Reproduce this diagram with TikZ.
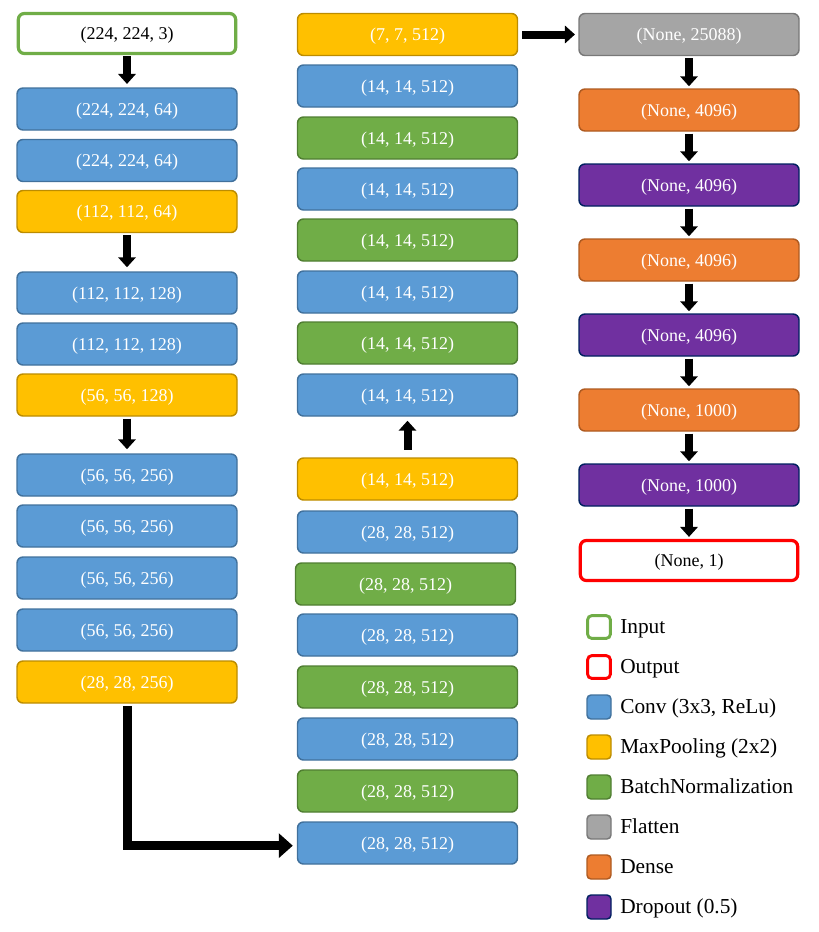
\documentclass[tikz,border=0pt]{standalone}
\usepackage{fontspec}
\setmainfont{Liberation Serif}
\usetikzlibrary{arrows.meta}
\definecolor{cblue}{HTML}{5B9BD5}\definecolor{cblueb}{HTML}{41719C}
\definecolor{cyel}{HTML}{FFC000}\definecolor{cyelb}{HTML}{BC8C00}
\definecolor{cgreen}{HTML}{70AD47}\definecolor{cgreenb}{HTML}{507E32}
\definecolor{cgray}{HTML}{A5A5A5}\definecolor{cgrayb}{HTML}{787878}
\definecolor{corange}{HTML}{ED7D31}\definecolor{corangeb}{HTML}{AE5A21}
\definecolor{cpurple}{HTML}{7030A0}\definecolor{cpurpleb}{HTML}{002060}
\definecolor{cred}{HTML}{FF0000}
\begin{document}
\begin{tikzpicture}[x=0.75pt,y=-0.75pt,
  layer/.style={rectangle,rounded corners=4.5pt,minimum width=165pt,minimum height=31.5pt,inner sep=0pt,line width=1.1pt,text=white,font=\fontsize{13.5}{16}\selectfont,text height=11pt,text depth=2pt},
  inp/.style={layer,draw=cgreen,fill=white,text=black,line width=2.4pt,minimum width=163pt,minimum height=30pt},
  outp/.style={layer,draw=cred,fill=white,text=black,line width=2.4pt,minimum width=163pt,minimum height=30pt},
  conv/.style={layer,fill=cblue,draw=cblueb},
  pool/.style={layer,fill=cyel,draw=cyelb},
  bn/.style={layer,fill=cgreen,draw=cgreenb},
  flat/.style={layer,fill=cgray,draw=cgrayb},
  dense/.style={layer,fill=corange,draw=corangeb},
  drop/.style={layer,fill=cpurple,draw=cpurpleb},
  flow/.style={line width=6pt,-{Triangle[width=13pt,length=7.5pt]}},
  bigflow/.style={line width=6.75pt,-{Triangle[width=18pt,length=10.5pt]}},
  legsq/.style={rectangle,rounded corners=3pt,minimum size=18pt,inner sep=0pt,line width=1.1pt},
  legtxt/.style={anchor=west,inner sep=0pt,font=\fontsize{16}{19}\selectfont,text height=11.4pt,text depth=2pt}
]
\useasboundingbox (0,0) rectangle (818,932);
% left column
\node[inp]  (l1)  at (127,33.5) {(224, 224, 3)};
\node[conv] (l2)  at (127,109)  {(224, 224, 64)};
\node[conv] (l3)  at (127,160.5){(224, 224, 64)};
\node[pool] (l4)  at (127,211.5){(112, 112, 64)};
\node[conv] (l5)  at (127,293)  {(112, 112, 128)};
\node[conv] (l6)  at (127,344)  {(112, 112, 128)};
\node[pool] (l7)  at (127,395)  {(56, 56, 128)};
\node[conv] (l8)  at (127,475)  {(56, 56, 256)};
\node[conv] (l9)  at (127,526)  {(56, 56, 256)};
\node[conv] (l10) at (127,578)  {(56, 56, 256)};
\node[conv] (l11) at (127,630)  {(56, 56, 256)};
\node[pool] (l12) at (127,682)  {(28, 28, 256)};
% middle column
\node[pool] (m1)  at (407.5,34.5) {(7, 7, 512)};
\node[conv] (m2)  at (407.5,86)   {(14, 14, 512)};
\node[bn]   (m3)  at (407.5,138)  {(14, 14, 512)};
\node[conv] (m4)  at (407.5,189)  {(14, 14, 512)};
\node[bn]   (m5)  at (407.5,240)  {(14, 14, 512)};
\node[conv] (m6)  at (407.5,292)  {(14, 14, 512)};
\node[bn]   (m7)  at (407.5,343)  {(14, 14, 512)};
\node[conv] (m8)  at (407.5,395)  {(14, 14, 512)};
\node[pool] (m9)  at (407.5,479)  {(14, 14, 512)};
\node[conv] (m10) at (407.5,532)  {(28, 28, 512)};
\node[bn]   (m11) at (405.5,584)  {(28, 28, 512)};
\node[conv] (m12) at (407.5,635)  {(28, 28, 512)};
\node[bn]   (m13) at (407.5,687)  {(28, 28, 512)};
\node[conv] (m14) at (407.5,739)  {(28, 28, 512)};
\node[bn]   (m15) at (407.5,791)  {(28, 28, 512)};
\node[conv] (m16) at (407.5,843)  {(28, 28, 512)};
% right column
\node[flat]  (r1) at (689,34.5)  {(None, 25088)};
\node[dense] (r2) at (689,110)   {(None, 4096)};
\node[drop]  (r3) at (689,185)   {(None, 4096)};
\node[dense] (r4) at (689,260)   {(None, 4096)};
\node[drop]  (r5) at (689,335)   {(None, 4096)};
\node[dense] (r6) at (689,410)   {(None, 1000)};
\node[drop]  (r7) at (689,485)   {(None, 1000)};
\node[outp]  (r8) at (689,560.5) {(None, 1)};
% arrows
\draw[flow,shorten <=1pt,shorten >=2.5pt] (l1.south) -- (l2.north);
\draw[flow,shorten <=1.5pt,shorten >=3pt] (l4.south) -- (l5.north);
\draw[flow,shorten <=1.5pt,shorten >=3pt] (l7.south) -- (l8.north);
\draw[flow,shorten <=5.5pt,shorten >=3pt] (m9.north) -- (m8.south);
\draw[flow,shorten <=3pt,shorten >=2.5pt] (m1.east) -- (r1.west);
\foreach \a/\b in {r1/r2,r2/r3,r3/r4,r4/r5,r5/r6,r6/r7,r7/r8}
  \draw[flow,shorten <=1.5pt,shorten >=1.5pt] (\a.south) -- (\b.north);
\draw[bigflow,shorten <=2pt,shorten >=3pt] (l12.south) |- ([yshift=-2pt]m16.west);
% legend
\node[legsq,draw=cgreen,fill=white,line width=2.2pt,minimum size=17pt] (k1) at (599,627) {};
\node[legsq,draw=cred,fill=white,line width=2.2pt,minimum size=17pt]   (k2) at (599,667) {};
\node[legsq,draw=cblueb,fill=cblue]     (k3) at (599,707) {};
\node[legsq,draw=cyelb,fill=cyel]       (k4) at (599,747) {};
\node[legsq,draw=cgreenb,fill=cgreen]   (k5) at (599,787) {};
\node[legsq,draw=cgrayb,fill=cgray]     (k6) at (599,827) {};
\node[legsq,draw=corangeb,fill=corange] (k7) at (599,867) {};
\node[legsq,draw=cpurpleb,fill=cpurple] (k8) at (599,907) {};
\node[legtxt] (t1) at (620,627) {Input};
\node[legtxt] (t2) at (620,667) {Output};
\node[legtxt] (t3) at (620,707) {Conv (3x3, ReLu)};
\node[legtxt] (t4) at (620,747) {MaxPooling (2x2)};
\node[legtxt] (t5) at (620,787) {BatchNormalization};
\node[legtxt] (t6) at (620,827) {Flatten};
\node[legtxt] (t7) at (620,867) {Dense};
\node[legtxt] (t8) at (620,907) {Dropout (0.5)};
\end{tikzpicture}
\end{document}
